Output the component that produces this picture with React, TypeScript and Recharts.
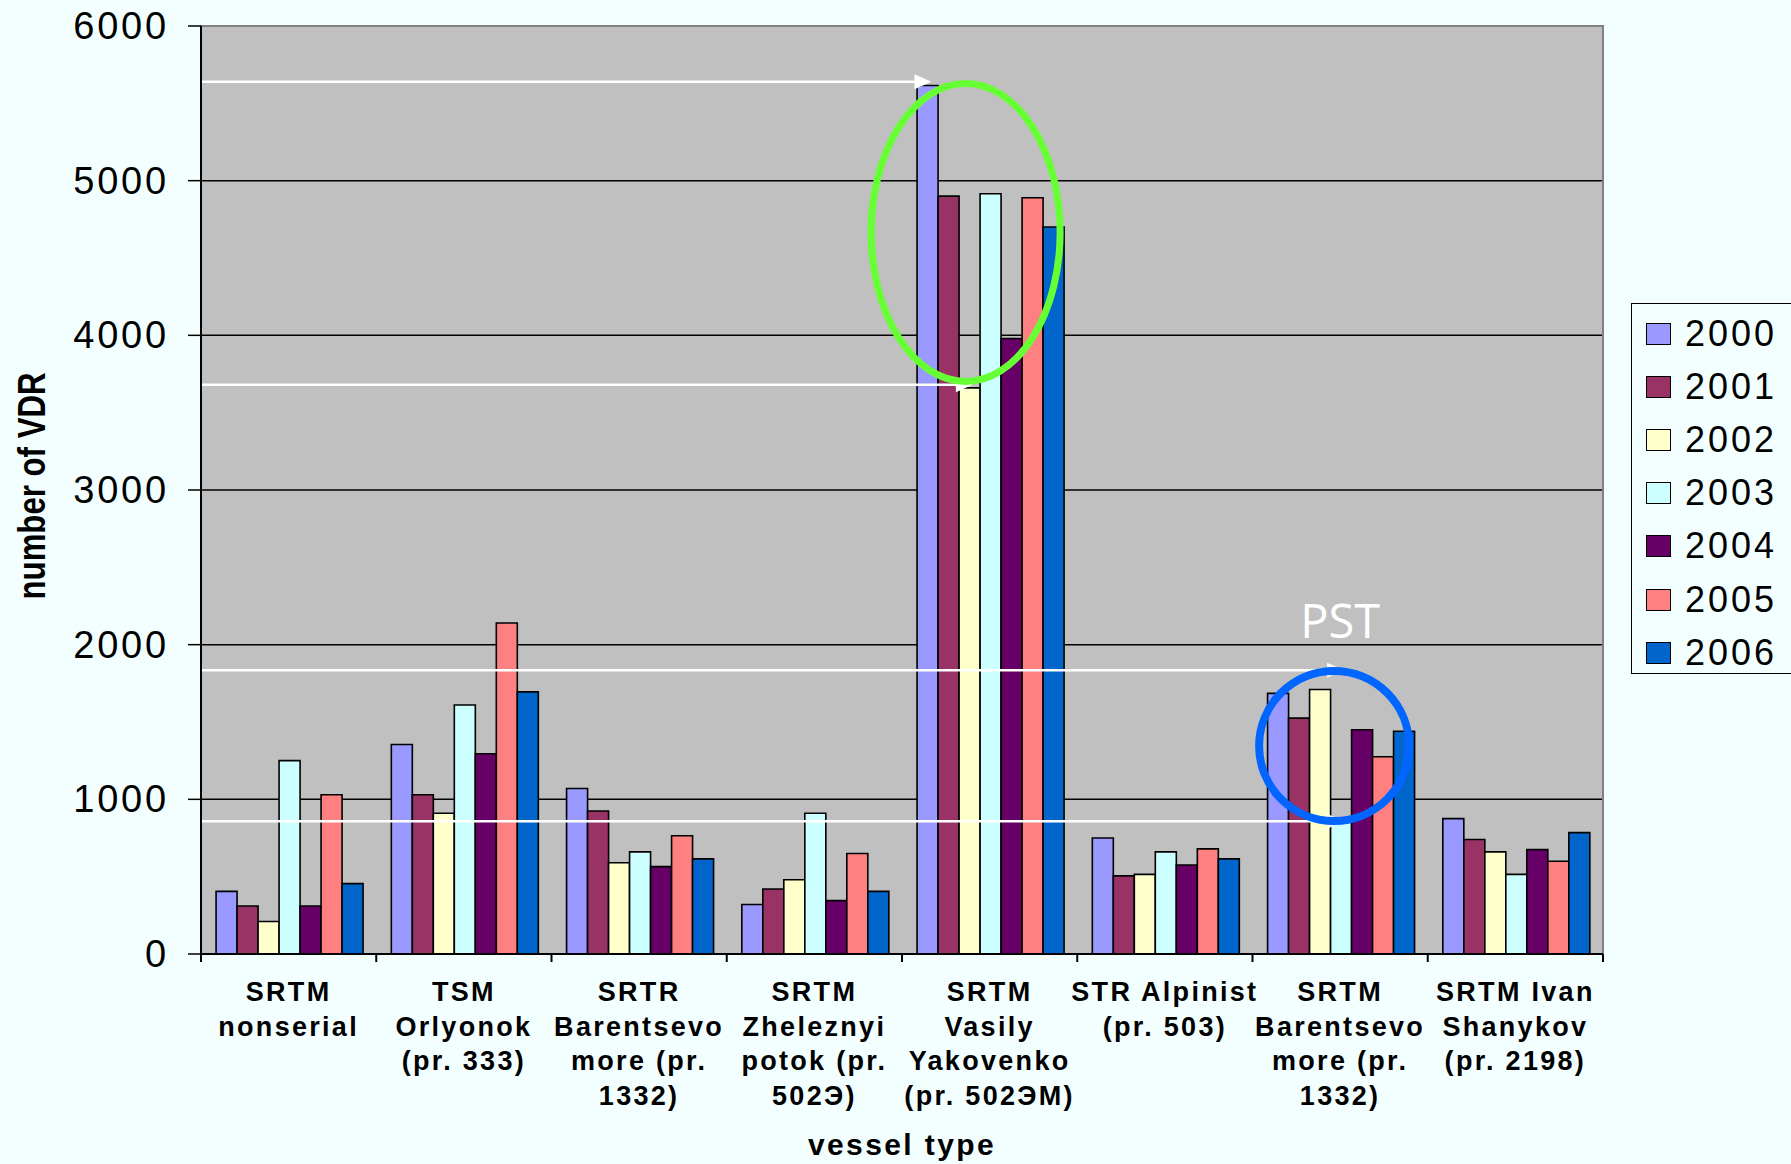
import React from 'react'
import {
	BarChart,
	Bar,
	XAxis,
	YAxis,
	CartesianGrid,
	Legend,
	ReferenceLine,
	ReferenceDot,
	ReferenceArea,
} from 'recharts'

// vessel types (category keys) and their wrapped axis labels
const vesselTypes = [
	'SRTM nonserial',
	'TSM Orlyonok (pr. 333)',
	'SRTR Barentsevo more (pr. 1332)',
	'SRTM Zheleznyi potok (pr. 502Э)',
	'SRTM Vasily Yakovenko (pr. 502ЭМ)',
	'STR Alpinist (pr. 503)',
	'SRTM Barentsevo more (pr. 1332)',
	'SRTM Ivan Shanykov (pr. 2198)',
]
const vesselLines = [
	['SRTM', 'nonserial'],
	['TSM', 'Orlyonok', '(pr. 333)'],
	['SRTR', 'Barentsevo', 'more (pr.', '1332)'],
	['SRTM', 'Zheleznyi', 'potok (pr.', '502Э)'],
	['SRTM', 'Vasily', 'Yakovenko', '(pr. 502ЭМ)'],
	['STR Alpinist', '(pr. 503)'],
	['SRTM', 'Barentsevo', 'more (pr.', '1332)'],
	['SRTM Ivan', 'Shanykov', '(pr. 2198)'],
]

const years = ['2000', '2001', '2002', '2003', '2004', '2005', '2006']
const yearColors = ['#9999FF', '#993366', '#FFFFCC', '#CCFFFF', '#660066', '#FF8080', '#0066CC']

// number of VDR per vessel type, one array per year
const vdr2000 = [405, 1355, 1070, 320, 5615, 750, 1685, 875]
const vdr2001 = [310, 1030, 925, 420, 4900, 505, 1525, 740]
const vdr2002 = [210, 910, 590, 480, 3660, 515, 1710, 660]
const vdr2003 = [1250, 1610, 660, 910, 4915, 660, 855, 515]
const vdr2004 = [310, 1295, 565, 345, 3980, 575, 1450, 675]
const vdr2005 = [1030, 2140, 765, 650, 4890, 680, 1275, 600]
const vdr2006 = [455, 1695, 615, 405, 4700, 615, 1440, 785]
const series = [vdr2000, vdr2001, vdr2002, vdr2003, vdr2004, vdr2005, vdr2006]

const yTicks = [0, 1000, 2000, 3000, 4000, 5000, 6000]

// white pointer arrows: level, target vessel type, target year
const arrowLevels = [5640, 3680, 1835, 858]
const arrowVessel = [4, 4, 6, 6]
const arrowYear = [0, 2, 3, 3]

const data = vesselTypes.map((name, i) => {
	const row: Record<string, string | number> = { name }
	years.forEach((y, k) => {
		row[y] = series[k][i]
	})
	return row
})

const W = 1791
const H = 1164
const Y_AXIS_W = 201
const RIGHT = 188
const TOP = 26
const X_AXIS_H = 210
const PLOT_W = W - Y_AXIS_W - RIGHT
const BAND = PLOT_W / vesselTypes.length
const GAP = 0.086
const BAR_W = (BAND * (1 - 2 * GAP)) / years.length

const BG = '#F3FFFF'
const SANS = '"Liberation Sans", Arial, Helvetica, sans-serif'

function YTick({ x, y, payload }: any) {
	return (
		<text
			x={x + 3}
			y={y + 13}
			textAnchor='end'
			fontFamily={SANS}
			fontSize={38}
			letterSpacing={2.8}
			fill='#000'
		>
			{payload.value}
		</text>
	)
}

function VesselTick({ x, y, payload, index }: any) {
	const i = payload?.index ?? index
	const lines = vesselLines[i] ?? []
	const left = x - BAND / 2
	const last = i === vesselTypes.length - 1
	return (
		<g>
			<line x1={left} y1={y} x2={left} y2={y + 8} stroke='#000' strokeWidth={2} />
			{last && (
				<line x1={x + BAND / 2} y1={y} x2={x + BAND / 2} y2={y + 8} stroke='#000' strokeWidth={2} />
			)}
			<text
				x={x}
				y={y + 47}
				textAnchor='middle'
				fontFamily={SANS}
				fontWeight={700}
				fontSize={27}
				letterSpacing={2.3}
				fill='#000'
			>
				{lines.map((l, k) => (
					<tspan key={k} x={x} dy={k === 0 ? 0 : 34.5}>
						{l}
					</tspan>
				))}
			</text>
		</g>
	)
}

// condensed bold title, squeezed along its (vertical) reading direction
const yTitle = (props: any) => {
	const vb = props.viewBox
	const cy = vb.y + vb.height / 2 - 4
	return (
		<g transform={`translate(31 ${cy}) rotate(-90) scale(0.8 1)`}>
			<text
				x={0}
				y={0}
				textAnchor='middle'
				dominantBaseline='central'
				fontFamily={SANS}
				fontWeight={700}
				fontSize={39}
				fill='#000'
			>
				number of VDR
			</text>
		</g>
	)
}

const xTitle = (props: any) => {
	const vb = props.viewBox
	return (
		<text
			x={vb.x + vb.width / 2}
			y={vb.y + 201}
			textAnchor='middle'
			fontFamily={SANS}
			fontWeight={700}
			fontSize={30}
			letterSpacing={2.4}
			fill='#000'
		>
			vessel type
		</text>
	)
}

function arrowShape(vessel: number, year: number) {
	return (p: any) => {
		const tip = p.x1 + vessel * BAND + BAND * GAP + (year + 0.5) * BAR_W + 4
		const y = p.y1
		return (
			<g>
				<line x1={p.x1} y1={y} x2={tip - 14} y2={y} stroke='#fff' strokeWidth={2.5} />
				<path d={`M${tip},${y} L${tip - 17},${y - 7.5} L${tip - 17},${y + 7.5} Z`} fill='#fff' />
			</g>
		)
	}
}

const greenRing = (p: any) => (
	<ellipse cx={p.cx - 24} cy={p.cy} rx={94.5} ry={149} fill='none' stroke='#66FF33' strokeWidth={7} />
)

const blueRing = (p: any) => (
	<g>
		<circle cx={p.cx - 6} cy={p.cy} r={75} fill='none' stroke='#0066FF' strokeWidth={8} />
		<text
			x={p.cx}
			y={p.cy - 108}
			textAnchor='middle'
			fontFamily='"Open Sans", "Noto Sans", sans-serif'
			fontSize={47}
			fill='#fff'
		>
			PST
		</text>
	</g>
)

function YearLegend({ payload }: any) {
	return (
		<div
			style={{
				width: 240,
				height: 371,
				boxSizing: 'border-box',
				border: '1.5px solid #000',
				paddingTop: 3.5,
				fontFamily: SANS,
			}}
		>
			{(payload ?? []).map((item: any) => (
				<div key={item.value} style={{ height: 53.1, display: 'flex', alignItems: 'center' }}>
					<div
						style={{
							marginLeft: 14,
							width: 25,
							height: 22,
							boxSizing: 'border-box',
							border: '1.5px solid #000',
							background: item.color,
						}}
					/>
					<span style={{ marginLeft: 14, fontSize: 36, letterSpacing: 3, color: '#000' }}>
						{item.value}
					</span>
				</div>
			))}
		</div>
	)
}

export default function App() {
	return (
		<div
			style={{
				position: 'fixed',
				left: 0,
				top: 0,
				width: W,
				height: H,
				overflow: 'hidden',
				background: BG,
			}}
		>
			<BarChart
				width={W}
				height={H}
				data={data}
				margin={{ top: TOP, right: RIGHT, bottom: 0, left: 0 }}
				barCategoryGap={`${GAP * 100}%`}
				barGap={0}
			>
				<CartesianGrid
					vertical={false}
					fill='#C0C0C0'
					fillOpacity={1}
					stroke='#000'
					strokeWidth={1.5}
				/>
				<ReferenceArea y1={0} y2={6000} fill='none' stroke='#808080' strokeWidth={2} ifOverflow='visible' />
				<XAxis
					dataKey='name'
					type='category'
					height={X_AXIS_H}
					interval={0}
					tickSize={0}
					tickMargin={0}
					tickLine={false}
					axisLine={{ stroke: '#000', strokeWidth: 2 }}
					tick={<VesselTick />}
					label={xTitle}
				/>
				<YAxis
					width={Y_AXIS_W}
					domain={[0, 6000]}
					ticks={yTicks}
					tickSize={13}
					tickMargin={22}
					tickLine={{ stroke: '#000', strokeWidth: 1.5 }}
					axisLine={{ stroke: '#000', strokeWidth: 2 }}
					tick={<YTick />}
					label={yTitle}
				/>
				{years.map((y, k) => (
					<Bar
						key={y}
						dataKey={y}
						name={y}
						fill={yearColors[k]}
						stroke='#000'
						strokeWidth={1.6}
						isAnimationActive={false}
					/>
				))}
				{arrowLevels.map((v, i) => (
					<ReferenceLine
						key={i}
						y={v}
						ifOverflow='visible'
						shape={arrowShape(arrowVessel[i], arrowYear[i])}
					/>
				))}
				<ReferenceDot
					x={vesselTypes[4]}
					y={4665}
					ifOverflow='visible'
					shape={greenRing}
				/>
				<ReferenceDot
					x={vesselTypes[6]}
					y={1345}
					ifOverflow='visible'
					shape={blueRing}
				/>
				<Legend
					layout='vertical'
					align='center'
					verticalAlign='middle'
					content={<YearLegend />}
					wrapperStyle={{ left: 1631, top: 303, width: 240 }}
				/>
			</BarChart>
		</div>
	)
}
